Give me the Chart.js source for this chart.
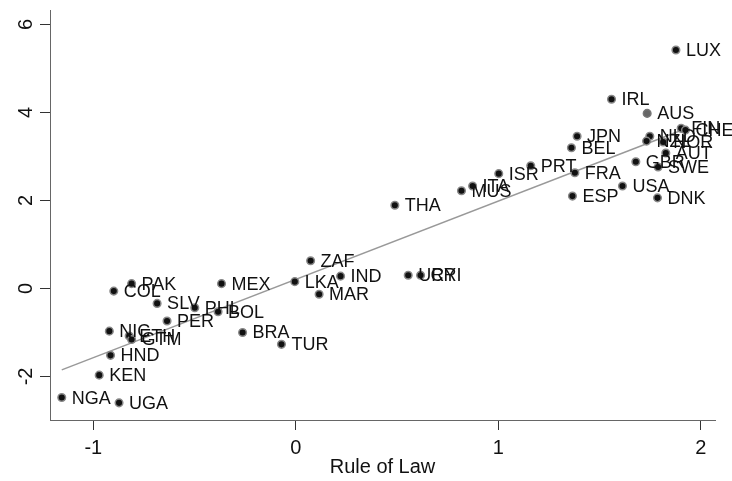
<!DOCTYPE html>
<html>
<head>
<meta charset="utf-8">
<script src="https://cdn.jsdelivr.net/npm/chart.js@4/dist/chart.umd.min.js"></script>
<style>
  html, body { margin: 0; padding: 0; background: #fff; }
  canvas { display: block; }
</style>
</head>
<body>
<canvas id="chart" width="732" height="481"></canvas>
<script>
// country codes and values
var countries = ["LUX","IRL","AUS","FIN","CHE","JPN","BEL","NLD","NZL","NOR","AUT","SWE","GBR",
  "FRA","USA","ESP","DNK","PRT","ISR","ITA","MUS","THA","URY","CRI","ZAF","LKA","IND","MAR",
  "MEX","PAK","COL","SLV","PHL","BOL","PER","BRA","TUR","NIC","ETH","GTM","HND","KEN","NGA","UGA"]
var ruleOfLaw = [1.877,1.559,1.735,1.903,1.924,1.389,1.361,1.748,1.732,1.814,1.827,1.789,1.679,
  1.378,1.613,1.366,1.786,1.160,1.002,0.873,0.818,0.489,0.555,0.616,0.073,-0.005,0.221,0.115,
  -0.367,-0.811,-0.899,-0.685,-0.499,-0.384,-0.636,-0.263,-0.071,-0.921,-0.823,-0.811,-0.915,-0.971,-1.156,-0.873]
var outcome = [5.42,4.30,3.98,3.64,3.60,3.46,3.20,3.46,3.35,3.33,3.08,2.76,2.88,
  2.63,2.33,2.10,2.06,2.79,2.61,2.33,2.22,1.89,0.30,0.30,0.63,0.155,0.28,-0.13,
  0.11,0.11,-0.06,-0.34,-0.44,-0.53,-0.74,-1.00,-1.27,-0.97,-1.08,-1.16,-1.52,-1.97,-2.48,-2.60]

// fitted line end points
var fitX = [-1.156, 1.924]
var fitY = [-1.85, 3.63]

var xTicks = [-1, 0, 1, 2]
var yTicks = [-2, 0, 2, 4, 6]

var FONT = '"Liberation Sans", Arial, sans-serif'

var pointLabels = {
  id: 'pointLabels',
  afterDatasetsDraw(chart) {
    var ctx = chart.ctx
    ctx.save()
    ctx.font = '18px ' + FONT
    ctx.fillStyle = '#111'
    ctx.textBaseline = 'middle'
    chart.data.datasets.forEach((ds, i) => {
      if (!ds.names) return
      chart.getDatasetMeta(i).data.forEach((pt, j) => {
        ctx.fillText(ds.names[j], pt.x + 10, pt.y + 1)
      })
    })
    ctx.restore()
  }
}

var scatterData = ruleOfLaw.map((x, i) => ({ x: x, y: outcome[i] }))
var fitData = fitX.map((x, i) => ({ x: x, y: fitY[i] }))

new Chart(document.getElementById('chart'), {
  type: 'scatter',
  data: {
    datasets: [
      {
        label: 'fit',
        type: 'line',
        data: fitData,
        borderColor: '#999',
        borderWidth: 1.5,
        pointRadius: 0,
        order: 2
      },
      {
        label: 'countries',
        data: scatterData,
        names: countries,
        pointRadius: 3.8,
        pointBorderWidth: 1.5,
        pointBackgroundColor: c => countries[c.dataIndex] === 'AUS' ? '#666' : '#111',
        pointBorderColor: c => countries[c.dataIndex] === 'AUS' ? '#777' : '#888',
        order: 1
      }
    ]
  },
  options: {
    responsive: false,
    animation: false,
    events: [],
    layout: { padding: { top: 10, right: 17, left: 0, bottom: 0 } },
    plugins: {
      legend: { display: false },
      tooltip: { enabled: false }
    },
    scales: {
      x: {
        type: 'linear',
        min: -1.214,
        max: 2.07,
        afterFit: s => { s.height = 61; s.paddingLeft = 0; s.paddingRight = 0 },
        afterBuildTicks: s => { s.ticks = xTicks.map(v => ({ value: v })) },
        ticks: { color: '#111', padding: 6, font: { size: 20, family: FONT } },
        grid: { drawOnChartArea: false, tickLength: 10, color: '#333' },
        border: { color: '#666', width: 1 },
        title: {
          display: true,
          text: 'Rule of Law',
          color: '#111',
          font: { size: 20, family: FONT },
          padding: { top: 0, bottom: 2 }
        }
      },
      y: {
        type: 'linear',
        min: -2.99,
        max: 6.33,
        afterFit: s => { s.width = 50; s.paddingTop = 0; s.paddingBottom = 0 },
        afterBuildTicks: s => { s.ticks = yTicks.map(v => ({ value: v })) },
        ticks: {
          color: '#111',
          padding: 5,
          minRotation: 90,
          maxRotation: 90,
          crossAlign: 'center',
          font: { size: 20, family: FONT }
        },
        grid: { drawOnChartArea: false, tickLength: 10, color: '#333' },
        border: { color: '#666', width: 1 }
      }
    }
  },
  plugins: [pointLabels]
})
</script>
</body>
</html>
